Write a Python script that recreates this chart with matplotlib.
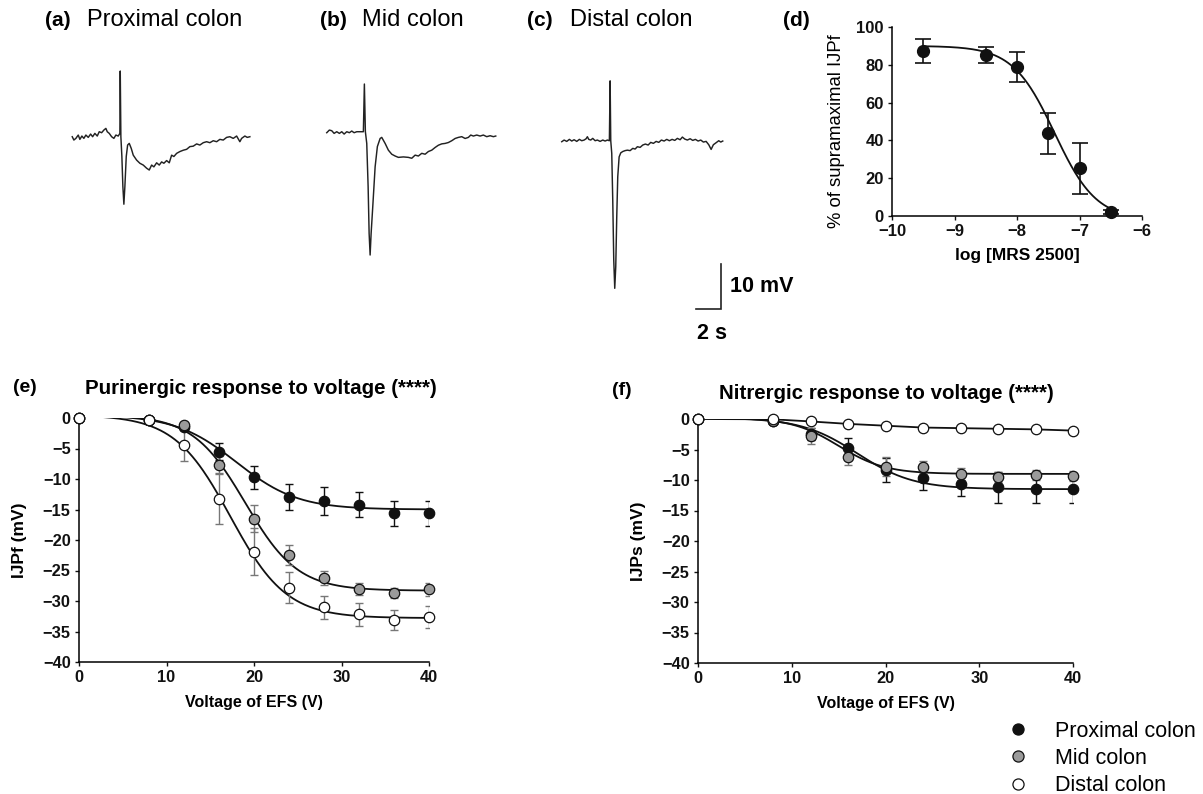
import numpy as np
import matplotlib
matplotlib.use("Agg")
import matplotlib.pyplot as plt
from matplotlib.lines import Line2D

plt.rcParams['font.family'] = ['Liberation Sans', 'DejaVu Sans']
plt.rcParams['axes.unicode_minus'] = True

W, H = 1203, 794

# ---- traces (time in s, membrane potential in mV, relative to baseline) ----
trace_a_t = [0, 0.13, 0.29, 0.48, 0.61, 0.77, 0.93, 1.09, 1.28, 1.47, 1.63, 1.81, 2.0, 2.16, 2.35,
             2.53, 2.69, 2.8, 2.96, 3.15, 3.33, 3.49, 3.68, 3.81, 3.84, 3.89, 3.97, 4.05, 4.13, 4.21,
             4.32, 4.43, 4.56, 4.72, 4.88, 5.15, 5.41, 5.68, 5.95, 6.16, 6.35, 6.53, 6.75, 6.96, 7.15,
             7.33, 7.55, 7.76, 7.95, 8.13, 8.35, 8.61, 8.88, 9.15, 9.41, 9.68, 9.95, 10.21, 10.48,
             10.75, 11.01, 11.28, 11.55, 11.81, 12.08, 12.35, 12.61, 12.88, 13.15, 13.41, 13.55,
             13.81, 14.0, 14.21]
trace_a_v = [0, -0.74, -0.37, 0.37, -0.59, 0.15, -0.37, 0.37, -0.15, 0.59, 0, 0.74, 0.15, 1.11, 0.89,
             1.48, 1.85, 1.11, 0.74, 0, -0.37, 0.37, 0.15, 0.74, 14.6, 0, -4.4, -11.1, -15.0, -11.1,
             -4.4, -1.85, -1.48, -2.6, -4.1, -5.2, -5.9, -6.3, -7.0, -7.4, -6.3, -6.7, -5.8, -6.3, -5.6,
             -5.9, -5.3, -5.8, -4.1, -4.4, -3.7, -3.3, -3.0, -2.8, -2.2, -2.1, -1.6, -1.85, -1.33,
             -1.11, -1.33, -0.89, -1.11, -0.59, -0.74, -0.15, 0, -0.37, 0.15, -1.11, -0.37,
             0.15, -0.15, 0]

trace_b_t = [0, 0.21, 0.4, 0.59, 0.8, 1.01, 1.2, 1.39, 1.6, 1.81, 2.0, 2.19, 2.4, 2.67, 2.93, 3.01,
             3.09, 3.2, 3.31, 3.39, 3.47, 3.55, 3.68, 3.87, 4.05, 4.27, 4.4, 4.67, 4.93, 5.2, 5.47,
             5.73, 6.13, 6.53, 6.8, 7.07, 7.33, 7.6, 7.87, 8.13, 8.4, 8.67, 8.93, 9.2, 9.47, 9.73,
             10.0, 10.27, 10.53, 10.8, 11.07, 11.33, 11.52, 11.73, 12.0, 12.27, 12.53, 12.8, 13.07,
             13.33, 13.52]
trace_b_v = [-0.22, 0.37, 0.22, -0.37, 0, -0.37, 0, -0.52, 0, -0.22, 0.15, -0.22, 0, 0, 0, 10.6,
             0, -2.6, -12.2, -22.6, -27.4, -22.6, -16.7, -7.8, -3.3, -1.5, -1.26, -2.6, -4.1, -5.0, -5.4,
             -5.7, -5.6, -5.7, -5.9, -5.2, -5.4, -4.8, -5.0, -4.4, -4.1, -3.5, -3.0, -2.7, -2.6, -2.4,
             -2.0, -1.5, -1.26, -1.1, -1.5, -1.26, -0.74, -0.96, -0.74, -0.96, -0.74, -1.1, -0.89,
             -1.1, -0.96]

trace_c_t = [0, 0.19, 0.4, 0.61, 0.8, 0.99, 1.2, 1.41, 1.6, 1.79, 1.95, 2.05, 2.16, 2.32, 2.48, 2.67,
             2.85, 3.07, 3.28, 3.47, 3.65, 3.81, 3.87, 3.92, 4.0, 4.08, 4.16, 4.24, 4.32, 4.4, 4.48,
             4.59, 4.72, 4.88, 5.07, 5.25, 5.47, 5.68, 5.87, 6.05, 6.27, 6.48, 6.69, 6.91, 7.12, 7.33,
             7.55, 7.76, 7.97, 8.19, 8.4, 8.61, 8.83, 9.04, 9.25, 9.47, 9.65, 9.84, 10.05, 10.27,
             10.48, 10.69, 10.91, 11.12, 11.33, 11.55, 11.76, 11.95, 12.13, 12.35, 12.56, 12.72, 12.88]
trace_c_v = [-0.22, 0.15, -0.15, 0.3, -0.07, 0.22, -0.15, 0.3, 0, 0.15, 0.44, 0.89, 0.3, 0.15, 0.52, 0,
             0.15, -0.15, 0.15, -0.07, 0.15, 0, 13.3, 0, -2.8, -13.2, -26.5, -32.8, -28.0, -16.9, -8.0,
             -3.6, -2.7, -2.4, -2.2, -2.1, -2.2, -1.7, -1.85, -1.33, -1.48, -0.96, -0.74, -0.96, -0.37,
             -0.59, -0.15, -0.37, 0.15, -0.07, 0.3, 0, 0.3, 0.07, 0.52, 0.22, 0.81, 0.37, 0.15, 0.44,
             0.07, 0.3, -0.07, 0.15, -0.3, -0.15, -0.89, -1.93, -0.89, -0.44, 0, -0.3, -0.07]

# ---- panel d: concentration-response ----
log_mrs = [-9.5, -8.5, -8.0, -7.5, -7.0, -6.5]
pct_ijpf = [87.3, 85.0, 78.9, 43.7, 25.2, 2.1]
pct_err = [6.4, 4.2, 7.9, 11.0, 13.3, 1.2]
d_fit = dict(top=90.0, bottom=-2.0, logic50=-7.4, hill=1.3)

# ---- panels e, f: voltage-response ----
voltage = [0, 8, 12, 16, 20, 24, 28, 32, 36, 40]
series_names = ['Proximal colon', 'Mid colon', 'Distal colon']
series_colors = ['#111111', '#9a9a9a', 'white']
bar_colors = ['#111111', '#777777', '#777777']

ijpf = {
    'Proximal colon': [0, -0.3, -1.5, -5.5, -9.7, -13.0, -13.6, -14.2, -15.6, -15.6],
    'Mid colon': [0, -0.3, -1.2, -7.7, -16.5, -22.5, -26.2, -28.0, -28.7, -28.1],
    'Distal colon': [0, -0.27, -4.5, -13.2, -21.9, -27.8, -31.0, -32.2, -33.1, -32.7],
}
ijpf_err = {
    'Proximal colon': [0, 0.3, 0.5, 1.4, 1.9, 2.1, 2.25, 2.0, 2.05, 2.05],
    'Mid colon': [0, 0.3, 0.5, 1.5, 2.2, 1.6, 1.2, 1.0, 0.8, 1.0],
    'Distal colon': [0, 0.3, 2.5, 4.2, 3.8, 2.5, 1.9, 1.9, 1.7, 1.8],
}
ijpf_fit = {
    'Proximal colon': (0.5, -15.0, 18.0, 3.5),
    'Mid colon': (0.5, -28.3, 19.0, 3.0),
    'Distal colon': (0.5, -32.8, 17.3, 3.2),
}

ijps = {
    'Proximal colon': [0, -0.3, -2.5, -4.8, -8.4, -9.6, -10.7, -11.2, -11.4, -11.5],
    'Mid colon': [0, -0.3, -2.8, -6.3, -7.8, -7.9, -9.0, -9.5, -9.2, -9.3],
    'Distal colon': [0, -0.05, -0.4, -0.8, -1.1, -1.4, -1.5, -1.6, -1.7, -1.9],
}
ijps_err = {
    'Proximal colon': [0, 0.3, 1.0, 1.7, 2.0, 2.0, 2.0, 2.5, 2.4, 2.3],
    'Mid colon': [0, 0.3, 1.3, 1.2, 1.5, 1.0, 1.0, 0.8, 0.8, 0.8],
    'Distal colon': [0, 0, 0, 0, 0, 0, 0, 0, 0, 0],
}
ijps_fit = {
    'Proximal colon': (0.2, -11.5, 17.0, 3.0),
    'Mid colon': (0.2, -9.0, 15.0, 2.5),
    'Distal colon': None,
}


def boltzmann(x, top, bottom, v50, k):
    return top + (bottom - top) / (1 + np.exp(-(x - v50) / k))


def px_axes(fig, left, top, right, bottom):
    return fig.add_axes([left / W, (H - bottom) / H, (right - left) / W, (bottom - top) / H])


def style_axes(ax, size):
    for s in ['top', 'right']:
        ax.spines[s].set_visible(False)
    for s in ['left', 'bottom']:
        ax.spines[s].set_linewidth(1.1)
    ax.tick_params(direction='out', length=3, width=1.0, labelsize=size, pad=3, colors='#111111')
    for lab in ax.get_xticklabels() + ax.get_yticklabels():
        lab.set_fontweight('bold')


fig = plt.figure(figsize=(W / 100, H / 100), dpi=100)

# traces, 12.5 px per s and 4.5 px per mV
ax_tr = px_axes(fig, 60, 40, 760, 345)
ax_tr.set_xlim(0, 700 / 12.5)
ax_tr.set_ylim(-(345 - 140) / 4.5, (140 - 40) / 4.5)
ax_tr.axis('off')
for t, v, (t0, v0) in [(trace_a_t, trace_a_v, (0.98, 0.73)),
                       (trace_b_t, trace_b_v, (21.34, 1.84)),
                       (trace_c_t, trace_c_v, (40.14, -0.16))]:
    ax_tr.plot(np.array(t) + t0, np.array(v) + v0, color='#222222', lw=1.05)
ax_tr.plot([50.9, 52.9, 52.9], [-37.5, -37.5, -27.5], color='#222222', lw=1.2, solid_joinstyle='miter')
ax_tr.text(53.6, -32.5, '10 mV', fontsize=15.5, fontweight='bold', va='center', ha='left')
ax_tr.text(52.16, -43.0, '2 s', fontsize=15.5, fontweight='bold', va='center', ha='center')

# top labels
for x_l, lab, x_t, name in [(45, '(a)', 87, 'Proximal colon'), (320, '(b)', 362, 'Mid colon'),
                            (527, '(c)', 570, 'Distal colon')]:
    fig.text(x_l / W, 1 - 20 / H, lab, fontsize=15, fontweight='bold', va='center')
    fig.text(x_t / W, 1 - 20 / H, name, fontsize=17, va='center')
fig.text(783 / W, 1 - 20 / H, '(d)', fontsize=15, fontweight='bold', va='center')

# panel d
ax_d = px_axes(fig, 892, 27, 1142, 216)
xs = np.linspace(-9.5, -6.5, 200)
ys = d_fit['bottom'] + (d_fit['top'] - d_fit['bottom']) / (1 + 10 ** ((xs - d_fit['logic50']) * d_fit['hill']))
ax_d.plot(xs, ys, color='#111111', lw=1.3, zorder=2)
ax_d.errorbar(log_mrs, pct_ijpf, yerr=pct_err, fmt='none', ecolor='#111111', elinewidth=1.2,
              capsize=6, capthick=1.2, zorder=3)
ax_d.plot(log_mrs, pct_ijpf, 'o', ms=8.5, color='#111111', zorder=4, clip_on=False)
ax_d.set_xlim(-10, -6)
ax_d.set_ylim(0, 100)
ax_d.set_xticks([-10, -9, -8, -7, -6])
ax_d.set_yticks([0, 20, 40, 60, 80, 100])
style_axes(ax_d, 12)
ax_d.set_xlabel('log [MRS 2500]', fontsize=12.5, fontweight='bold', labelpad=6)
ax_d.set_ylabel('% of supramaximal IJPf', fontsize=13.3, labelpad=8)
ax_d.yaxis.label.set_y(0.45)


def voltage_panel(ax, means, errs, fits, ylabel):
    xs = np.linspace(0, 40, 300)
    for name in series_names:
        fit = fits[name]
        if fit is not None:
            ax.plot(xs, boltzmann(xs, *fit), color='#111111', lw=1.3, zorder=2)
        else:
            ax.plot(voltage, means[name], color='#111111', lw=1.3, zorder=2)
    for name, bc in zip(series_names, bar_colors):
        ax.errorbar(voltage, means[name], yerr=errs[name], fmt='none', ecolor=bc, elinewidth=1.0,
                    capsize=3, capthick=1.0, zorder=3)
    for name, mc in zip(series_names, series_colors):
        ax.plot(voltage, means[name], 'o', ms=7.5, mfc=mc, mec='#111111', mew=0.9,
                zorder=4, clip_on=False)
    ax.set_xlim(0, 40)
    ax.set_ylim(-40, 0)
    ax.set_xticks([0, 10, 20, 30, 40])
    ax.set_yticks(range(-40, 1, 5))
    style_axes(ax, 11.8)
    ax.set_xlabel('Voltage of EFS (V)', fontsize=11.5, fontweight='bold', labelpad=7)
    ax.set_ylabel(ylabel, fontsize=12.5, fontweight='bold', labelpad=11)


ax_e = px_axes(fig, 79, 418, 429, 662)
voltage_panel(ax_e, ijpf, ijpf_err, ijpf_fit, 'IJPf (mV)')
fig.text(13 / W, 1 - 388 / H, '(e)', fontsize=14, fontweight='bold', va='center')
fig.text(261 / W, 1 - 388 / H, 'Purinergic response to voltage (****)', fontsize=14.8,
         fontweight='bold', va='center', ha='center')

ax_f = px_axes(fig, 698, 419, 1073, 663)
voltage_panel(ax_f, ijps, ijps_err, ijps_fit, 'IJPs (mV)')
fig.text(612 / W, 1 - 390 / H, '(f)', fontsize=14, fontweight='bold', va='center')
fig.text(886 / W, 1 - 393 / H, 'Nitrergic response to voltage (****)', fontsize=14.8,
         fontweight='bold', va='center', ha='center')

# legend
handles = [Line2D([], [], ls='none', marker='o', ms=8, mfc=c, mec='#111111', mew=0.9)
           for c in series_colors]
fig.legend(handles, series_names, loc='upper left', bbox_to_anchor=(991 / W, 1 - 710 / H),
           frameon=False, fontsize=15.5, handletextpad=0.98, labelspacing=0.29, borderpad=0,
           handlelength=1.5)

fig.savefig('out.png', dpi=100)
